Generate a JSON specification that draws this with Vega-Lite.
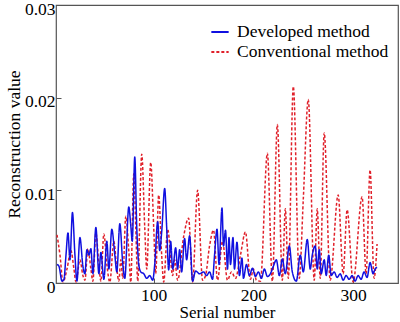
{
  "$schema": "https://vega.github.io/schema/vega-lite/v6.json",
  "width": 342,
  "height": 278,
  "autosize": {"type": "none"},
  "padding": {"left": 56, "top": 5, "right": 2, "bottom": 39},
  "background": "white",
  "config": {
    "view": {"stroke": "#555555", "strokeWidth": 1.2},
    "font": "Liberation Serif",
    "axis": {"labelFont": "Liberation Serif", "titleFont": "Liberation Serif", "labelFontSize": 17.5, "titleFontSize": 17.5, "labelColor": "black", "titleColor": "black", "titleFontWeight": "normal", "grid": false, "domain": false, "tickColor": "#555555"}
  },
  "datasets": {
    "dev": [
      {"s":3,"v":0.0020},{"s":5,"v":0.0018},{"s":8,"v":0.0002},{"s":10,"v":0.0004},{"s":12,"v":0.0030},{"s":14,"v":0.0054},{"s":16,"v":0.0025},{"s":18.5,"v":0.0076},{"s":21,"v":0.0030},{"s":23,"v":0.0002},{"s":26,"v":0.0049},{"s":29,"v":0.0018},{"s":31,"v":0.0010},{"s":33,"v":0.0036},{"s":35,"v":0.0030},{"s":37,"v":0.0037},{"s":39,"v":0.0010},{"s":42,"v":0.0060},{"s":45,"v":0.0010},{"s":47,"v":0.0033},{"s":50,"v":0.0004},{"s":53,"v":0.0045},{"s":55,"v":0.0015},{"s":58,"v":0.0058},{"s":61,"v":0.0030},{"s":63,"v":0.0012},{"s":66,"v":0.0064},{"s":69,"v":0.0020},{"s":71,"v":0.0005},{"s":75,"v":0.0082},{"s":77,"v":0.0062},{"s":78.5,"v":0.0045},{"s":81,"v":0.0136},{"s":83,"v":0.0060},{"s":85,"v":0.0020},{"s":87,"v":0.0012},{"s":90,"v":0.0010},{"s":93,"v":0.0005},{"s":96,"v":0.0008},{"s":99,"v":0.0003},{"s":101,"v":0.0020},{"s":104,"v":0.0066},{"s":106,"v":0.0035},{"s":108,"v":0.0055},{"s":111,"v":0.0102},{"s":113,"v":0.0060},{"s":115,"v":0.0014},{"s":117,"v":0.0045},{"s":119,"v":0.0015},{"s":122,"v":0.0038},{"s":124,"v":0.0015},{"s":126,"v":0.0036},{"s":128,"v":0.0012},{"s":131,"v":0.0048},{"s":133,"v":0.0025},{"s":136,"v":0.0051},{"s":139,"v":0.0002},{"s":142,"v":0.0013},{"s":146,"v":0.0010},{"s":150,"v":0.0012},{"s":153,"v":0.0008},{"s":156,"v":0.0012},{"s":159,"v":0.0004},{"s":161,"v":0.0030},{"s":163.5,"v":0.0058},{"s":165.5,"v":0.0020},{"s":168.5,"v":0.0081},{"s":170,"v":0.0040},{"s":172,"v":0.0057},{"s":174,"v":0.0015},{"s":175.5,"v":0.0049},{"s":177,"v":0.0020},{"s":179.5,"v":0.0049},{"s":181,"v":0.0015},{"s":183.5,"v":0.0044},{"s":186,"v":0.0008},{"s":188.5,"v":0.0027},{"s":190,"v":0.0005},{"s":193,"v":0.0020},{"s":196,"v":0.0008},{"s":199,"v":0.0016},{"s":202,"v":0.0007},{"s":205,"v":0.0012},{"s":208,"v":0.0005},{"s":211,"v":0.0015},{"s":214,"v":0.0007},{"s":217,"v":0.0010},{"s":220,"v":0.0018},{"s":223,"v":0.0025},{"s":226,"v":0.0008},{"s":229,"v":0.0026},{"s":232,"v":0.0010},{"s":236,"v":0.0040},{"s":239,"v":0.0012},{"s":243,"v":0.0002},{"s":247,"v":0.0030},{"s":250,"v":0.0012},{"s":254,"v":0.0047},{"s":257,"v":0.0015},{"s":259,"v":0.0030},{"s":262,"v":0.0040},{"s":264,"v":0.0015},{"s":266,"v":0.0036},{"s":268,"v":0.0010},{"s":271,"v":0.0025},{"s":273,"v":0.0008},{"s":275.5,"v":0.0030},{"s":278,"v":0.0008},{"s":281,"v":0.0012},{"s":284,"v":0.0006},{"s":287,"v":0.0010},{"s":290,"v":0.0003},{"s":293,"v":0.0008},{"s":296,"v":0.0004},{"s":299,"v":0.0008},{"s":302,"v":0.0002},{"s":305,"v":0.0008},{"s":308,"v":0.0004},{"s":311,"v":0.0012},{"s":314,"v":0.0006},{"s":317,"v":0.0022},{"s":320,"v":0.0010},{"s":322,"v":0.0015},{"s":324,"v":0.0017}
    ],
    "conv": [
      {"s":3,"v":0.0052},{"s":6,"v":0.0030},{"s":9,"v":0.0001},{"s":13,"v":0.0015},{"s":17,"v":0.0035},{"s":20,"v":0.0015},{"s":22,"v":0.0001},{"s":26,"v":0.0025},{"s":29,"v":0.0008},{"s":31,"v":0.0003},{"s":34,"v":0.0037},{"s":37,"v":0.0015},{"s":39,"v":0.0002},{"s":42,"v":0.0054},{"s":45,"v":0.0020},{"s":47,"v":0.0002},{"s":50,"v":0.0053},{"s":53,"v":0.0020},{"s":56,"v":0.0001},{"s":60,"v":0.0045},{"s":63,"v":0.0015},{"s":65,"v":0.0002},{"s":67,"v":0.0025},{"s":69,"v":0.0005},{"s":72,"v":0.0072},{"s":75,"v":0.0035},{"s":77,"v":0.0001},{"s":80,"v":0.0118},{"s":82,"v":0.0060},{"s":84,"v":0.0002},{"s":88,"v":0.0139},{"s":91,"v":0.0060},{"s":93,"v":0.0015},{"s":97,"v":0.0130},{"s":100,"v":0.0060},{"s":102,"v":0.0010},{"s":105,"v":0.0095},{"s":108,"v":0.0030},{"s":110,"v":0.0001},{"s":114,"v":0.0058},{"s":119,"v":0.0008},{"s":121,"v":0.0025},{"s":124,"v":0.0003},{"s":130,"v":0.0050},{"s":135,"v":0.0070},{"s":139,"v":0.0001},{"s":144,"v":0.0100},{"s":149,"v":0.0003},{"s":152,"v":0.0008},{"s":156,"v":0.0040},{"s":160,"v":0.0057},{"s":164,"v":0.0003},{"s":169,"v":0.0045},{"s":174,"v":0.0003},{"s":178,"v":0.0012},{"s":182,"v":0.0005},{"s":187,"v":0.0030},{"s":192,"v":0.0055},{"s":197,"v":0.0004},{"s":200,"v":0.0015},{"s":203,"v":0.0003},{"s":207,"v":0.0002},{"s":214,"v":0.0140},{"s":219,"v":0.0002},{"s":224,"v":0.0171},{"s":229,"v":0.0003},{"s":232,"v":0.0080},{"s":235,"v":0.0005},{"s":240,"v":0.0212},{"s":246,"v":0.0005},{"s":250,"v":0.0090},{"s":255,"v":0.0198},{"s":261,"v":0.0003},{"s":264,"v":0.0080},{"s":267,"v":0.0005},{"s":271,"v":0.0162},{"s":277,"v":0.0003},{"s":285,"v":0.0095},{"s":290,"v":0.0010},{"s":294,"v":0.0079},{"s":300,"v":0.0001},{"s":309,"v":0.0093},{"s":313,"v":0.0010},{"s":317,"v":0.0122},{"s":321,"v":0.0005},{"s":324,"v":0.0042}
    ]
  },
  "layer": [
    {
      "data": {"name": "conv"},
      "transform": [{"calculate": "'Conventional method'", "as": "m"}],
      "mark": {"type": "line", "interpolate": "monotone", "strokeWidth": 1.5, "clip": true},
      "encoding": {
        "x": {"field": "s", "type": "quantitative", "scale": {"domain": [2, 345], "nice": false}, "axis": {"values": [100, 200, 300], "title": "Serial number", "tickSize": -5, "labelPadding": 8, "titlePadding": 1, "titleFontSize": 17}},
        "y": {"field": "v", "type": "quantitative", "scale": {"domain": [0, 0.03], "nice": false}, "axis": {"values": [0, 0.01, 0.02, 0.03], "format": "~g", "title": "Reconstruction value", "tickSize": -5, "labelPadding": 6, "labelOffset": 4, "titlePadding": 1}},
        "color": {"field": "m", "type": "nominal", "scale": {"domain": ["Developed method", "Conventional method"], "range": ["#1010e0", "#e0202a"]}, "legend": {"title": null, "orient": "none", "legendX": 154, "legendY": 17, "labelFont": "Liberation Serif", "labelFontSize": 17.5, "labelColor": "black", "symbolType": "stroke", "symbolSize": 300, "symbolStrokeWidth": 2, "rowPadding": 1, "labelOffset": 7}},
        "strokeDash": {"field": "m", "type": "nominal", "scale": {"domain": ["Developed method", "Conventional method"], "range": [[1, 0], [3, 2]]}, "legend": null}
      }
    },
    {
      "data": {"name": "dev"},
      "transform": [{"calculate": "'Developed method'", "as": "m"}],
      "mark": {"type": "line", "interpolate": "monotone", "strokeWidth": 1.5, "clip": true},
      "encoding": {
        "x": {"field": "s", "type": "quantitative"},
        "y": {"field": "v", "type": "quantitative"},
        "color": {"field": "m", "type": "nominal"},
        "strokeDash": {"field": "m", "type": "nominal"}
      }
    }
  ]
}
